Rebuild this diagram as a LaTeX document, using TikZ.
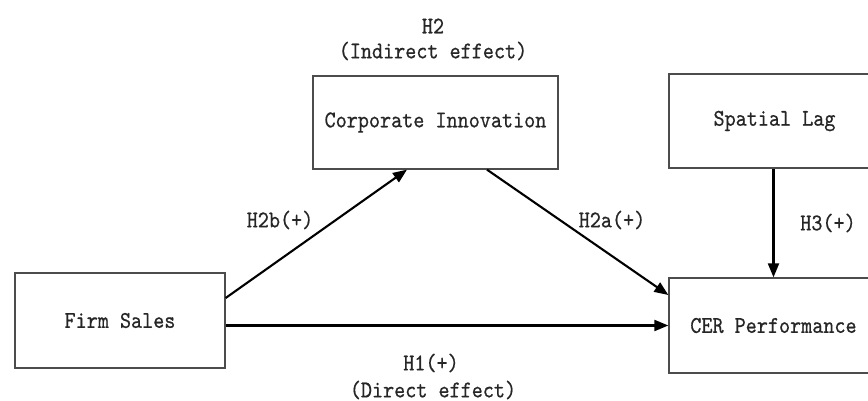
\documentclass[tikz,border=0pt]{standalone}
\usepackage{fontspec}
\usetikzlibrary{arrows.meta}
\newfontfamily\dfont{lmmono10-regular}[Extension=.otf,FakeStretch=0.88,FakeBold=0.6]
\newcommand{\diagfont}{\dfont\fontsize{24}{26}\selectfont}
\begin{document}
\begin{tikzpicture}[x=1pt,y=-1pt,
  box/.style={draw=black!70,line width=1.3pt,minimum width=210pt,minimum height=95pt,inner sep=0pt,
    font=\diagfont,text=black!85},
  lbl/.style={inner sep=0pt,font=\diagfont,text=black!85},
  arr/.style={line width=2.1pt,-{Triangle[length=14pt,width=11pt]}}]
\useasboundingbox (0,0) rectangle (868,401);
\clip (0,0) rectangle (868,401);
\node[box] (firm) at (120,320.5) {Firm Sales};
\node[box,minimum width=245pt,minimum height=93pt] (corp) at (435.5,122.5) {Corporate Innovation};
\node[box,minimum width=211pt,minimum height=94pt] (spatial) at (774.5,121) {Spatial Lag};
\node[box,minimum width=209pt,minimum height=95pt] (cer) at (773.5,325.5) {CER Performance};
\draw[arr] ([yshift=22.5pt]firm.east) -- ([xshift=-28.5pt]corp.south);
\draw[arr] ([xshift=51.5pt]corp.south) -- ([yshift=30.5pt]cer.west);
\draw[arr] (firm.east |- cer.west) -- (cer.west);
\draw[arr] (spatial.south -| cer.north) -- (cer.north);
\node[lbl] (h2) at (433,26) {H2};
\node[lbl] (h2t) at (433,51) {(Indirect effect)};
\node[lbl] (h2b) at (280,220) {H2b(+)};
\node[lbl] (h2a) at (612,220) {H2a(+)};
\node[lbl] (h3) at (828,223) {H3(+)};
\node[lbl] (h1) at (431,363) {H1(+)};
\node[lbl] (h1t) at (433,390) {(Direct effect)};
\end{tikzpicture}
\end{document}
